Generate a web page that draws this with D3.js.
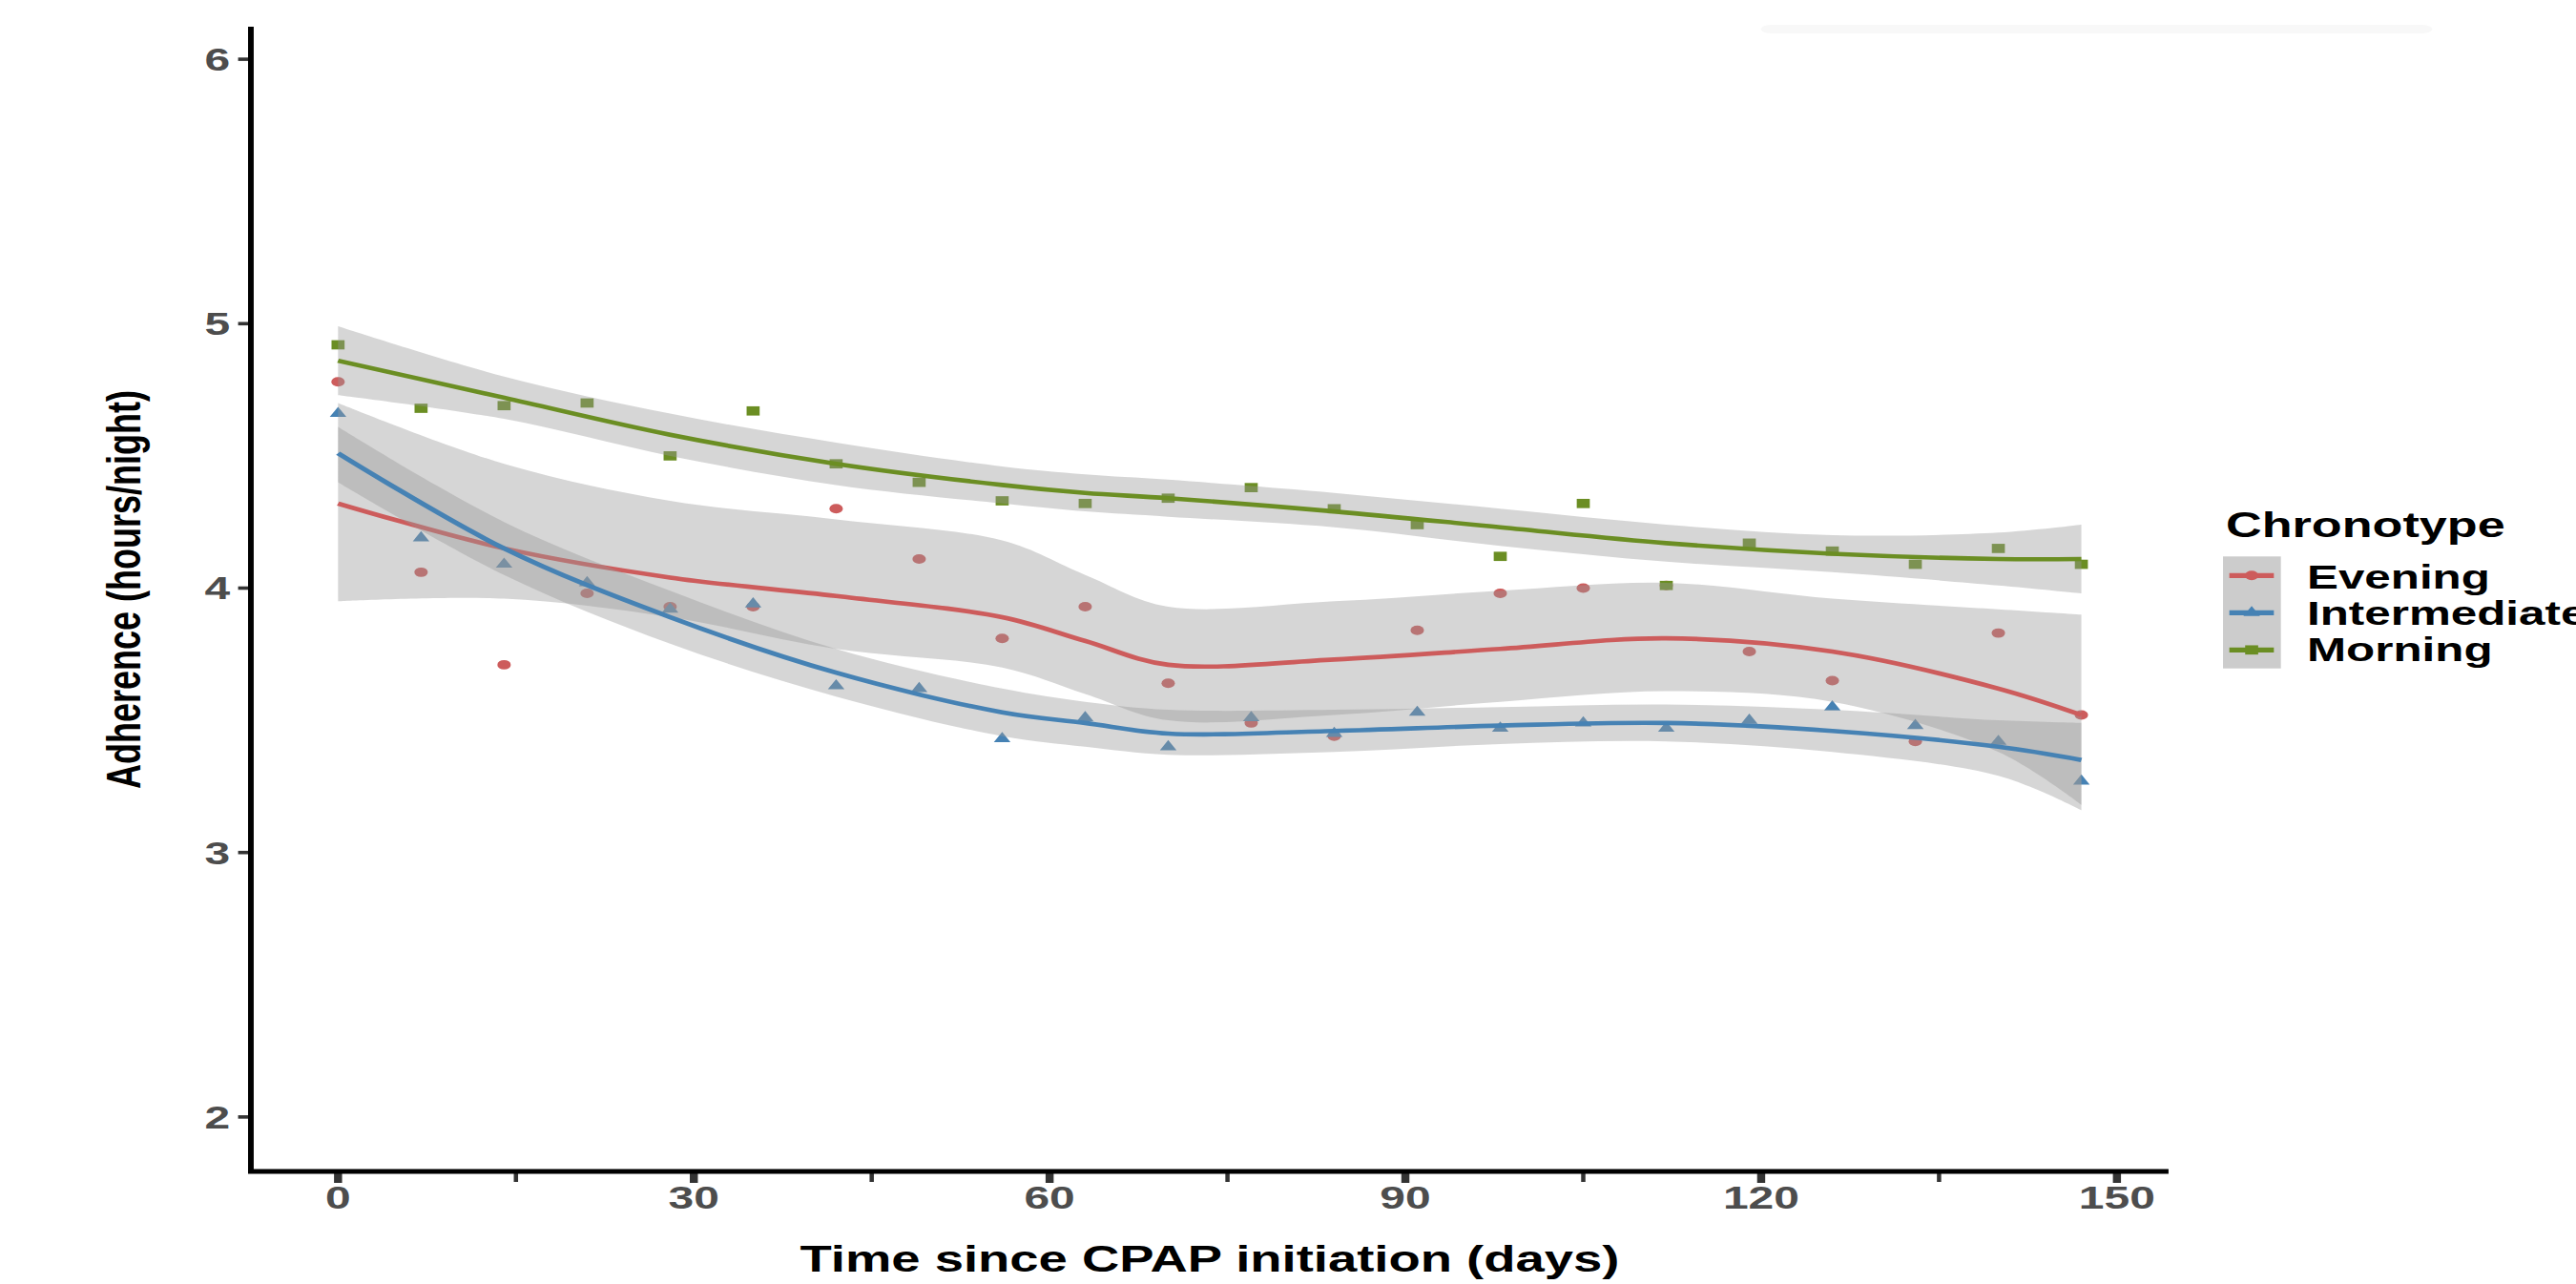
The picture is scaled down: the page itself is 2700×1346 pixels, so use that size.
<!DOCTYPE html>
<html>
<head>
<meta charset="utf-8">
<script src="https://d3js.org/d3.v7.min.js"></script>
<style>
  body { margin: 0; background: white; }
  svg text { font-family: 'Liberation Sans', Arial, sans-serif; font-weight: bold; }
</style>
</head>
<body>
<svg id="chart"></svg>
<script>
// observed points (one every 7 days)
const days = [0, 7, 14, 21, 28, 35, 42, 49, 56, 63, 70, 77, 84, 91, 98, 105, 112, 119, 126, 133, 140, 147];
const evening = [4.78, 4.06, 3.71, 3.98, 3.93, 3.93, 4.30, 4.11, 3.81, 3.93, 3.64, 3.49, 3.44, 3.84, 3.98, 4.00, 4.01, 3.76, 3.65, 3.42, 3.83, 3.52];
const intermediate = [4.66, 4.19, 4.09, 4.02, 3.92, 3.94, 3.63, 3.62, 3.43, 3.51, 3.40, 3.51, 3.45, 3.53, 3.47, 3.49, 3.47, 3.50, 3.55, 3.48, 3.42, 3.27];
const morning = [4.92, 4.68, 4.69, 4.70, 4.50, 4.67, 4.47, 4.40, 4.33, 4.32, 4.34, 4.38, 4.30, 4.24, 4.12, 4.32, 4.01, 4.17, 4.14, 4.09, 4.15, 4.09];

// smoothed fits and their bands
const fitDays = [0, 14, 28, 42, 56, 63, 70, 84, 98, 112, 126, 140, 147];
const eveningFit = [4.32, 4.15, 4.04, 3.97, 3.89, 3.80, 3.71, 3.73, 3.77, 3.81, 3.76, 3.62, 3.52];
const eveningHi  = [4.70, 4.47, 4.33, 4.26, 4.18, 4.05, 3.93, 3.95, 3.99, 4.02, 3.96, 3.92, 3.90];
const eveningLo  = [3.95, 3.96, 3.89, 3.77, 3.70, 3.60, 3.50, 3.52, 3.57, 3.61, 3.57, 3.38, 3.18];
const intermediateFit = [4.51, 4.15, 3.89, 3.68, 3.53, 3.49, 3.45, 3.46, 3.48, 3.49, 3.46, 3.40, 3.35];
const intermediateHi  = [4.61, 4.25, 3.99, 3.77, 3.62, 3.57, 3.54, 3.54, 3.55, 3.56, 3.54, 3.50, 3.49];
const intermediateLo  = [4.40, 4.05, 3.79, 3.59, 3.44, 3.40, 3.37, 3.38, 3.41, 3.42, 3.38, 3.29, 3.16];
const morningFit = [4.86, 4.72, 4.58, 4.47, 4.39, 4.36, 4.34, 4.29, 4.23, 4.17, 4.13, 4.11, 4.11];
const morningHi  = [4.99, 4.80, 4.66, 4.55, 4.46, 4.43, 4.41, 4.36, 4.30, 4.24, 4.20, 4.21, 4.24];
const morningLo  = [4.73, 4.64, 4.50, 4.39, 4.32, 4.29, 4.27, 4.23, 4.16, 4.10, 4.06, 4.01, 3.98];

const groups = ['Evening', 'Intermediate', 'Morning'];
const colors = ['#CD5C5C', '#4682B4', '#6B8E23'];
const xTicks = [0, 30, 60, 90, 120, 150];
const xMinorTicks = [15, 45, 75, 105, 135];
const yTicks = [2, 3, 4, 5, 6];

// the reference is stretched sideways, so draw narrow and let the viewBox stretch it
var stretch = 1.41;
var W = 2700 / stretch, H = 1346;

var svg = d3.select('#chart')
  .attr('width', 2700)
  .attr('height', 1346)
  .attr('viewBox', '0 0 ' + W + ' ' + H)
  .attr('preserveAspectRatio', 'none');

var x = d3.scaleLinear().domain([-7.35, 154.35]).range([186.5, 1612]);
var y = d3.scaleLinear().domain([1.794, 6.123]).range([1228, 28]);

var series = [
  { name: groups[0], color: colors[0], pts: evening, fit: eveningFit, lo: eveningLo, hi: eveningHi, shape: d3.symbolCircle, size: 78 },
  { name: groups[1], color: colors[1], pts: intermediate, fit: intermediateFit, lo: intermediateLo, hi: intermediateHi, shape: d3.symbolTriangle, size: 66 },
  { name: groups[2], color: colors[2], pts: morning, fit: morningFit, lo: morningLo, hi: morningHi, shape: d3.symbolSquare, size: 94 }
];

// faint strip at top right
svg.append('rect')
  .attr('x', 1309).attr('y', 26).attr('width', 499).attr('height', 9)
  .attr('rx', 8).attr('fill', '#f8f8f8');

var plot = svg.append('g');

// points first, ribbons go on top of them
series.forEach(function (s) {
  plot.append('g').selectAll('path')
    .data(days)
    .join('path')
    .attr('transform', function (d, i) { return 'translate(' + x(d) + ',' + y(s.pts[i]) + ')'; })
    .attr('d', d3.symbol().type(s.shape).size(s.size))
    .attr('fill', s.color);
});

var area = d3.area()
  .x(function (d) { return x(d.day); })
  .y0(function (d) { return y(d.lo); })
  .y1(function (d) { return y(d.hi); })
  .curve(d3.curveCatmullRom);

var line = d3.line()
  .x(function (d) { return x(d.day); })
  .y(function (d) { return y(d.fit); })
  .curve(d3.curveCatmullRom);

series.forEach(function (s) {
  var rows = fitDays.map(function (d, i) {
    return { day: d, fit: s.fit[i], lo: s.lo[i], hi: s.hi[i] };
  });
  plot.append('path')
    .datum(rows)
    .attr('d', area)
    .attr('fill', '#999999')
    .attr('fill-opacity', 0.4);
  plot.append('path')
    .datum(rows)
    .attr('d', line)
    .attr('fill', 'none')
    .attr('stroke', s.color)
    .attr('stroke-width', 4.6);
});

// axes
var axes = svg.append('g');

axes.selectAll('.ytick')
  .data(yTicks)
  .join('line')
  .attr('x1', 177).attr('x2', 186.5)
  .attr('y1', function (d) { return y(d); })
  .attr('y2', function (d) { return y(d); })
  .attr('stroke', '#333').attr('stroke-width', 3.6);

axes.selectAll('.ylab')
  .data(yTicks)
  .join('text')
  .attr('x', 171)
  .attr('y', function (d) { return y(d) + 12; })
  .attr('text-anchor', 'end')
  .attr('font-size', 34)
  .attr('fill', '#4d4d4d')
  .text(function (d) { return d; });

axes.selectAll('.xminor')
  .data(xMinorTicks)
  .join('line')
  .attr('x1', function (d) { return x(d); })
  .attr('x2', function (d) { return x(d); })
  .attr('y1', 1228).attr('y2', 1239)
  .attr('stroke', '#333').attr('stroke-width', 3.2);

axes.selectAll('.xmajor')
  .data(xTicks)
  .join('line')
  .attr('x1', function (d) { return x(d); })
  .attr('x2', function (d) { return x(d); })
  .attr('y1', 1228).attr('y2', 1240)
  .attr('stroke', '#333').attr('stroke-width', 6);

axes.selectAll('.xlab')
  .data(xTicks)
  .join('text')
  .attr('x', function (d) { return x(d); })
  .attr('y', 1267)
  .attr('text-anchor', 'middle')
  .attr('font-size', 34)
  .attr('fill', '#4d4d4d')
  .text(function (d) { return d; });

axes.append('line')
  .attr('x1', 186.5).attr('x2', 186.5)
  .attr('y1', 28).attr('y2', 1230)
  .attr('stroke', 'black').attr('stroke-width', 4.2);

axes.append('line')
  .attr('x1', 184.4).attr('x2', 1612)
  .attr('y1', 1228).attr('y2', 1228)
  .attr('stroke', 'black').attr('stroke-width', 5);

axes.append('text')
  .attr('x', (186.5 + 1612) / 2)
  .attr('y', 1333)
  .attr('text-anchor', 'middle')
  .attr('font-size', 38.6)
  .attr('fill', 'black')
  .text('Time since CPAP initiation (days)');

axes.append('text')
  .attr('transform', 'translate(104.5,618) rotate(-90)')
  .attr('text-anchor', 'middle')
  .attr('font-size', 36)
  .attr('fill', 'black')
  .text('Adherence (hours/night)');

// legend
var legend = svg.append('g');

legend.append('text')
  .attr('x', 1654.6).attr('y', 563)
  .attr('font-size', 37)
  .attr('fill', 'black')
  .text('Chronotype');

legend.append('rect')
  .attr('x', 1652.5).attr('y', 583.3)
  .attr('width', 43).attr('height', 117.4)
  .attr('fill', '#999999').attr('fill-opacity', 0.5);

var keyY = [603.3, 642.3, 681.3];
var labelY = [616.7, 655, 693];

series.forEach(function (s, i) {
  legend.append('line')
    .attr('x1', 1657.2).attr('x2', 1690.3)
    .attr('y1', keyY[i]).attr('y2', keyY[i])
    .attr('stroke', s.color).attr('stroke-width', 5.3);
  legend.append('path')
    .attr('transform', 'translate(' + 1673.8 + ',' + keyY[i] + ')')
    .attr('d', d3.symbol().type(s.shape).size(s.size))
    .attr('fill', s.color);
  legend.append('text')
    .attr('x', 1714.9).attr('y', labelY[i])
    .attr('font-size', 35)
    .attr('fill', 'black')
    .text(s.name);
});
</script>
</body>
</html>
